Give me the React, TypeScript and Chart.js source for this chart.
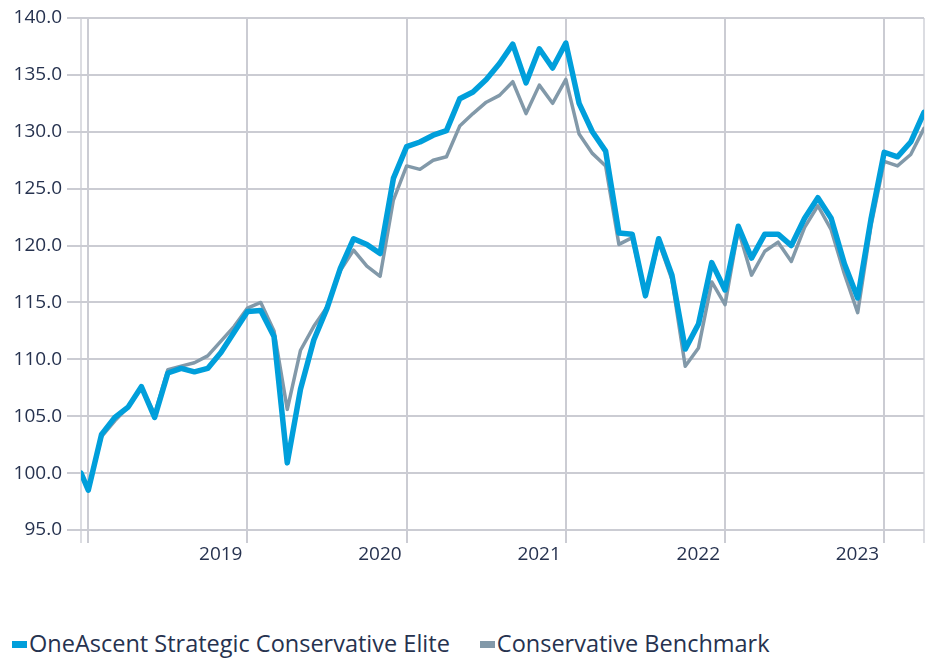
import React, { useEffect, useRef } from "react";
import { Chart, registerables } from "chart.js";

Chart.register(...registerables);

// Period labels: inception, then month-ends from Dec 2017 to Mar 2023
const periodLabels: string[] = [
  "Inception",
  "Dec 2017",
  "Jan 2018", "Feb 2018", "Mar 2018", "Apr 2018", "May 2018", "Jun 2018",
  "Jul 2018", "Aug 2018", "Sep 2018", "Oct 2018", "Nov 2018", "Dec 2018",
  "Jan 2019", "Feb 2019", "Mar 2019", "Apr 2019", "May 2019", "Jun 2019",
  "Jul 2019", "Aug 2019", "Sep 2019", "Oct 2019", "Nov 2019", "Dec 2019",
  "Jan 2020", "Feb 2020", "Mar 2020", "Apr 2020", "May 2020", "Jun 2020",
  "Jul 2020", "Aug 2020", "Sep 2020", "Oct 2020", "Nov 2020", "Dec 2020",
  "Jan 2021", "Feb 2021", "Mar 2021", "Apr 2021", "May 2021", "Jun 2021",
  "Jul 2021", "Aug 2021", "Sep 2021", "Oct 2021", "Nov 2021", "Dec 2021",
  "Jan 2022", "Feb 2022", "Mar 2022", "Apr 2022", "May 2022", "Jun 2022",
  "Jul 2022", "Aug 2022", "Sep 2022", "Oct 2022", "Nov 2022", "Dec 2022",
  "Jan 2023", "Feb 2023", "Mar 2023",
];

// Position of inception relative to the Dec 2017 month-end (in months)
const inceptionOffset = -0.55;

const eliteValues: number[] = [
  100.0, 98.5,
  103.4, 104.9, 105.8, 107.6, 104.9, 108.8, 109.2, 108.9, 109.2, 110.6, 112.4, 114.2,
  114.3, 112.0, 100.9, 107.4, 111.7, 114.5, 118.0, 120.6, 120.1, 119.3, 125.9, 128.7,
  129.1, 129.7, 130.1, 132.9, 133.5, 134.6, 136.0, 137.7, 134.3, 137.3, 135.6, 137.8,
  132.5, 130.0, 128.3, 121.1, 121.0, 115.6, 120.6, 117.4, 110.9, 113.1, 118.5, 116.1,
  121.7, 118.9, 121.0, 121.0, 120.0, 122.4, 124.2, 122.4, 118.4, 115.4, 122.3, 128.2,
  127.8, 129.1, 131.7,
];

const benchmarkValues: number[] = [
  100.0, 98.5,
  103.2, 104.6, 105.8, 107.5, 105.2, 109.1, 109.4, 109.7, 110.3, 111.6, 112.9, 114.5,
  115.0, 112.5, 105.6, 110.8, 112.9, 114.6, 117.8, 119.6, 118.2, 117.3, 124.0, 127.0,
  126.7, 127.5, 127.8, 130.5, 131.6, 132.6, 133.2, 134.4, 131.6, 134.1, 132.5, 134.6,
  129.8, 128.1, 127.0, 120.1, 120.7, 115.5, 120.3, 117.0, 109.4, 111.0, 116.8, 114.8,
  121.4, 117.4, 119.5, 120.3, 118.6, 121.6, 123.5, 121.4, 117.5, 114.1, 121.7, 127.4,
  127.0, 128.0, 130.3,
];

const seriesNames: string[] = [
  "OneAscent Strategic Conservative Elite",
  "Conservative Benchmark",
];
const seriesColors: string[] = ["#009fdb", "#8299a9"];

const yearTickLabels: string[] = ["2018", "2019", "2020", "2021", "2022", "2023"];
const hiddenYearLabels: string[] = ["2018"];

const yMin = 95;
const yMax = 140;
const yStep = 5;

const FONT = "'Open Sans', 'DejaVu Sans', sans-serif";
const TEXT = "#26324f";
const GRID = "#cbccd3";
const EDGE = "#dcdde2";

function xOf(i: number): number {
  return i === 0 ? inceptionOffset : i - 1;
}

export default function App() {
  const ref = useRef<HTMLCanvasElement | null>(null);

  useEffect(() => {
    if (!ref.current) return;
    const lastX = xOf(periodLabels.length - 1);
    const yearPos: { [k: number]: string } = {};
    yearTickLabels.forEach((y, i) => {
      yearPos[i * 12] = hiddenYearLabels.includes(y) ? "" : y;
    });
    const tickValues = [inceptionOffset, ...Object.keys(yearPos).map(Number), lastX];

    const chart = new Chart(ref.current, {
      type: "line",
      data: {
        datasets: [
          {
            label: seriesNames[0],
            data: eliteValues.map((v, i) => ({ x: xOf(i), y: v })),
            borderColor: seriesColors[0],
            backgroundColor: seriesColors[0],
            borderWidth: 5.5,
            pointRadius: 0,
            tension: 0,
            borderJoinStyle: "round",
            borderCapStyle: "round",
          },
          {
            label: seriesNames[1],
            data: benchmarkValues.map((v, i) => ({ x: xOf(i), y: v })),
            borderColor: seriesColors[1],
            backgroundColor: seriesColors[1],
            borderWidth: 3.5,
            pointRadius: 0,
            tension: 0,
            borderJoinStyle: "round",
            borderCapStyle: "round",
          },
        ],
      },
      options: {
        animation: false,
        responsive: false,
        layout: { padding: { top: 18, right: 7, left: 0, bottom: 0 } },
        plugins: { legend: { display: false }, tooltip: { enabled: false } },
        scales: {
          x: {
            type: "linear",
            min: inceptionOffset,
            max: lastX,
            afterBuildTicks: (scale: any) => {
              scale.ticks = tickValues.map((v) => ({ value: v }));
            },
            afterFit: (scale: any) => {
              scale.height = 70;
            },
            border: { display: false },
            grid: {
              color: (ctx: any) =>
                ctx.tick && (ctx.tick.value === inceptionOffset || ctx.tick.value === lastX) ? EDGE : GRID,
              lineWidth: 2,
              tickLength: 13,
              drawTicks: true,
            },
            ticks: {
              autoSkip: false,
              maxRotation: 0,
              align: "end",
              labelOffset: -5,
              padding: 0,
              color: TEXT,
              font: { family: FONT, size: 19 },
              callback: (v: any) => (yearPos[v as number] !== undefined ? yearPos[v as number] : ""),
            },
          },
          y: {
            min: yMin,
            max: yMax,
            afterFit: (scale: any) => {
              scale.width = 81;
            },
            border: { display: false },
            grid: { color: GRID, lineWidth: 2, tickLength: 14 },
            ticks: {
              stepSize: yStep,
              padding: 5,
              color: TEXT,
              font: { family: FONT, size: 19 },
              callback: (v: any) => Number(v).toFixed(1),
            },
          },
        },
      },
    } as any);
    return () => chart.destroy();
  }, []);

  return (
    <div
      style={{
        position: "absolute",
        left: 0,
        top: 0,
        width: 931,
        height: 658,
        background: "#fff",
        overflow: "hidden",
      }}
    >
      <canvas ref={ref} width={931} height={600} style={{ display: "block" }} />
      <div
        style={{
          position: "absolute",
          left: 12,
          top: 628,
          height: 30,
          lineHeight: "30px",
          display: "flex",
          alignItems: "center",
          fontFamily: FONT,
          fontSize: 23.5,
          color: TEXT,
          whiteSpace: "nowrap",
        }}
      >
        {seriesNames.map((name, i) => (
          <span
            key={name}
            style={{ display: "flex", alignItems: "center", marginRight: i === 0 ? 30 : 0 }}
          >
            <span
              style={{
                display: "inline-block",
                width: 15,
                height: 7,
                background: seriesColors[i],
                marginRight: 2,
                marginTop: 3,
              }}
            />
            <span>{name}</span>
          </span>
        ))}
      </div>
    </div>
  );
}
